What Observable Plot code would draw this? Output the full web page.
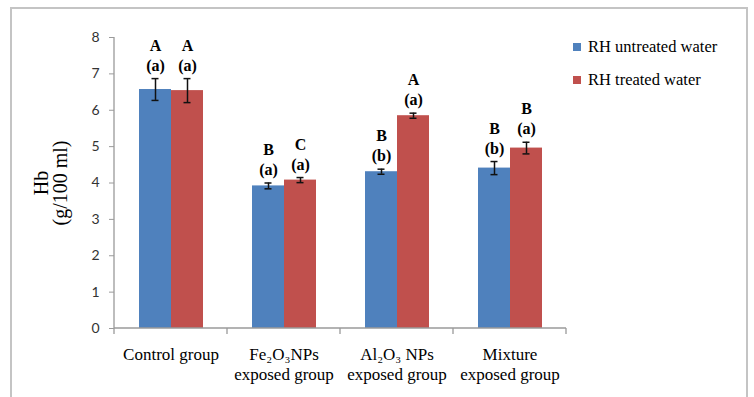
<!DOCTYPE html>
<html><head><meta charset="utf-8">
<script src="https://cdn.jsdelivr.net/npm/d3@7"></script>
<script src="https://cdn.jsdelivr.net/npm/@observablehq/plot@0.6"></script>
<style>
body{margin:0;background:#fff;width:754px;height:397px;overflow:hidden;position:relative;}
#frame{position:absolute;left:10px;top:7px;width:738px;height:420px;border:2px solid #c4c4c4;box-sizing:border-box;}
#chart{position:absolute;left:0;top:0;}
#legend{position:absolute;left:573px;top:30px;font-family:"Liberation Serif",serif;font-size:16.5px;color:#000;}
.item{display:flex;align-items:center;height:33px;white-space:nowrap;}
.sw{width:8px;height:8px;margin-right:7px;}
</style></head><body>
<div id="frame"></div>
<div id="chart"></div>
<div id="legend"></div>
<script>
const groups = ["Control group", "Fe₂O₃NPs\nexposed group", "Al₂O₃ NPs\nexposed group", "Mixture\nexposed group"];
const series = ["RH untreated water", "RH treated water"];
const colors = ["#4F81BD", "#C0504D"];
const untreated = [6.57, 3.92, 4.31, 4.41];
const treated = [6.54, 4.08, 5.85, 4.96];
const untreatedErr = [0.3, 0.08, 0.07, 0.18];
const treatedErr = [0.33, 0.07, 0.07, 0.16];
const untreatedLetters = ["A\n(a)", "B\n(a)", "B\n(b)", "B\n(b)"];
const treatedLetters = ["A\n(a)", "C\n(a)", "A\n(a)", "B\n(a)"];
const yTicks = [0, 1, 2, 3, 4, 5, 6, 7, 8];
const yLabel = "Hb\n(g/100 ml)";

const table = groups.flatMap((g, i) => [
  {group: g, series: series[0], value: untreated[i], err: untreatedErr[i], letters: untreatedLetters[i]},
  {group: g, series: series[1], value: treated[i], err: treatedErr[i], letters: treatedLetters[i]}
]);

const serif = "'Liberation Serif', 'Times New Roman', serif";

function axisLines(index, scales, values, dims) {
  const {y, fx} = scales;
  const left = dims.marginLeft, right = dims.width - dims.marginRight;
  let edges;
  if (fx && fx.bandwidth) {
    edges = fx.domain().map(d => fx(d));
    edges.push(fx(fx.domain()[fx.domain().length - 1]) + fx.bandwidth());
  } else {
    const step = (right - left) / groups.length;
    edges = d3.range(groups.length + 1).map(i => left + i * step);
  }
  const y0 = y(0), yTop = y(yTicks[yTicks.length - 1]);
  const g = d3.create("svg:g").attr("fill", "none").attr("stroke", "#9a9a9a").attr("stroke-width", 1.3);
  g.append("line").attr("x1", left).attr("x2", left).attr("y1", y0).attr("y2", yTop);
  g.append("line").attr("x1", left).attr("x2", right).attr("y1", y0).attr("y2", y0);
  for (const e of edges) g.append("line").attr("x1", e).attr("x2", e).attr("y1", y0).attr("y2", y0 + 6);
  return g.node();
}

const chart = Plot.plot({
  width: 580, height: 397,
  marginLeft: 113, marginRight: 13, marginTop: 37, marginBottom: 69,
  style: {background: "transparent", overflow: "visible"},
  fx: {domain: groups, paddingInner: 0, paddingOuter: 0, label: null},
  x: {domain: series, paddingInner: 0, paddingOuter: 0.746, axis: null},
  y: {domain: [0, 8], label: null},
  color: {domain: series, range: colors},
  marks: [
    Plot.barY(table, {fx: "group", x: "series", y: "value", fill: "series"}),
    Plot.ruleX(table, {fx: "group", x: "series", y1: d => d.value - d.err, y2: d => d.value + d.err, stroke: "#111", strokeWidth: 1.5}),
    Plot.tickY(table, {fx: "group", x: "series", y: d => d.value + d.err, insetLeft: 12.5, insetRight: 12.5, stroke: "#111", strokeWidth: 1.5}),
    Plot.tickY(table, {fx: "group", x: "series", y: d => d.value - d.err, insetLeft: 12.5, insetRight: 12.5, stroke: "#111", strokeWidth: 1.5}),
    Plot.text(table, {fx: "group", x: "series", y: d => d.value + d.err, text: "letters", lineAnchor: "bottom", dy: -8,
      fontFamily: serif, fontWeight: "bold", fontSize: 16, lineHeight: 1.25, fill: "#000"}),
    Plot.axisY({ticks: yTicks, tickSize: 5, tickPadding: 10, fontSize: 14, fontFamily: "Lato, sans-serif", label: null, stroke: "#9a9a9a", fill: "#333"}),
    Plot.axisFx({anchor: "bottom", tickSize: 0, tickPadding: 17, fontSize: 17, fontFamily: serif, lineHeight: 1.2, label: null, fill: "#000"}),
    Plot.text([yLabel], {facet: "super", frameAnchor: "left", textAnchor: "middle", rotate: -90, dx: -63, dy: 0, fontSize: 20, lineHeight: 0.92, fontFamily: serif, fill: "#000"}),
    Plot.frame({facet: "super", render: axisLines})
  ]
});
document.getElementById("chart").append(chart);

const legend = d3.select("#legend");
series.forEach((s, i) => {
  const it = legend.append("div").attr("class", "item");
  it.append("div").attr("class", "sw").style("background", colors[i]);
  it.append("span").text(s);
});
</script>
</body></html>
